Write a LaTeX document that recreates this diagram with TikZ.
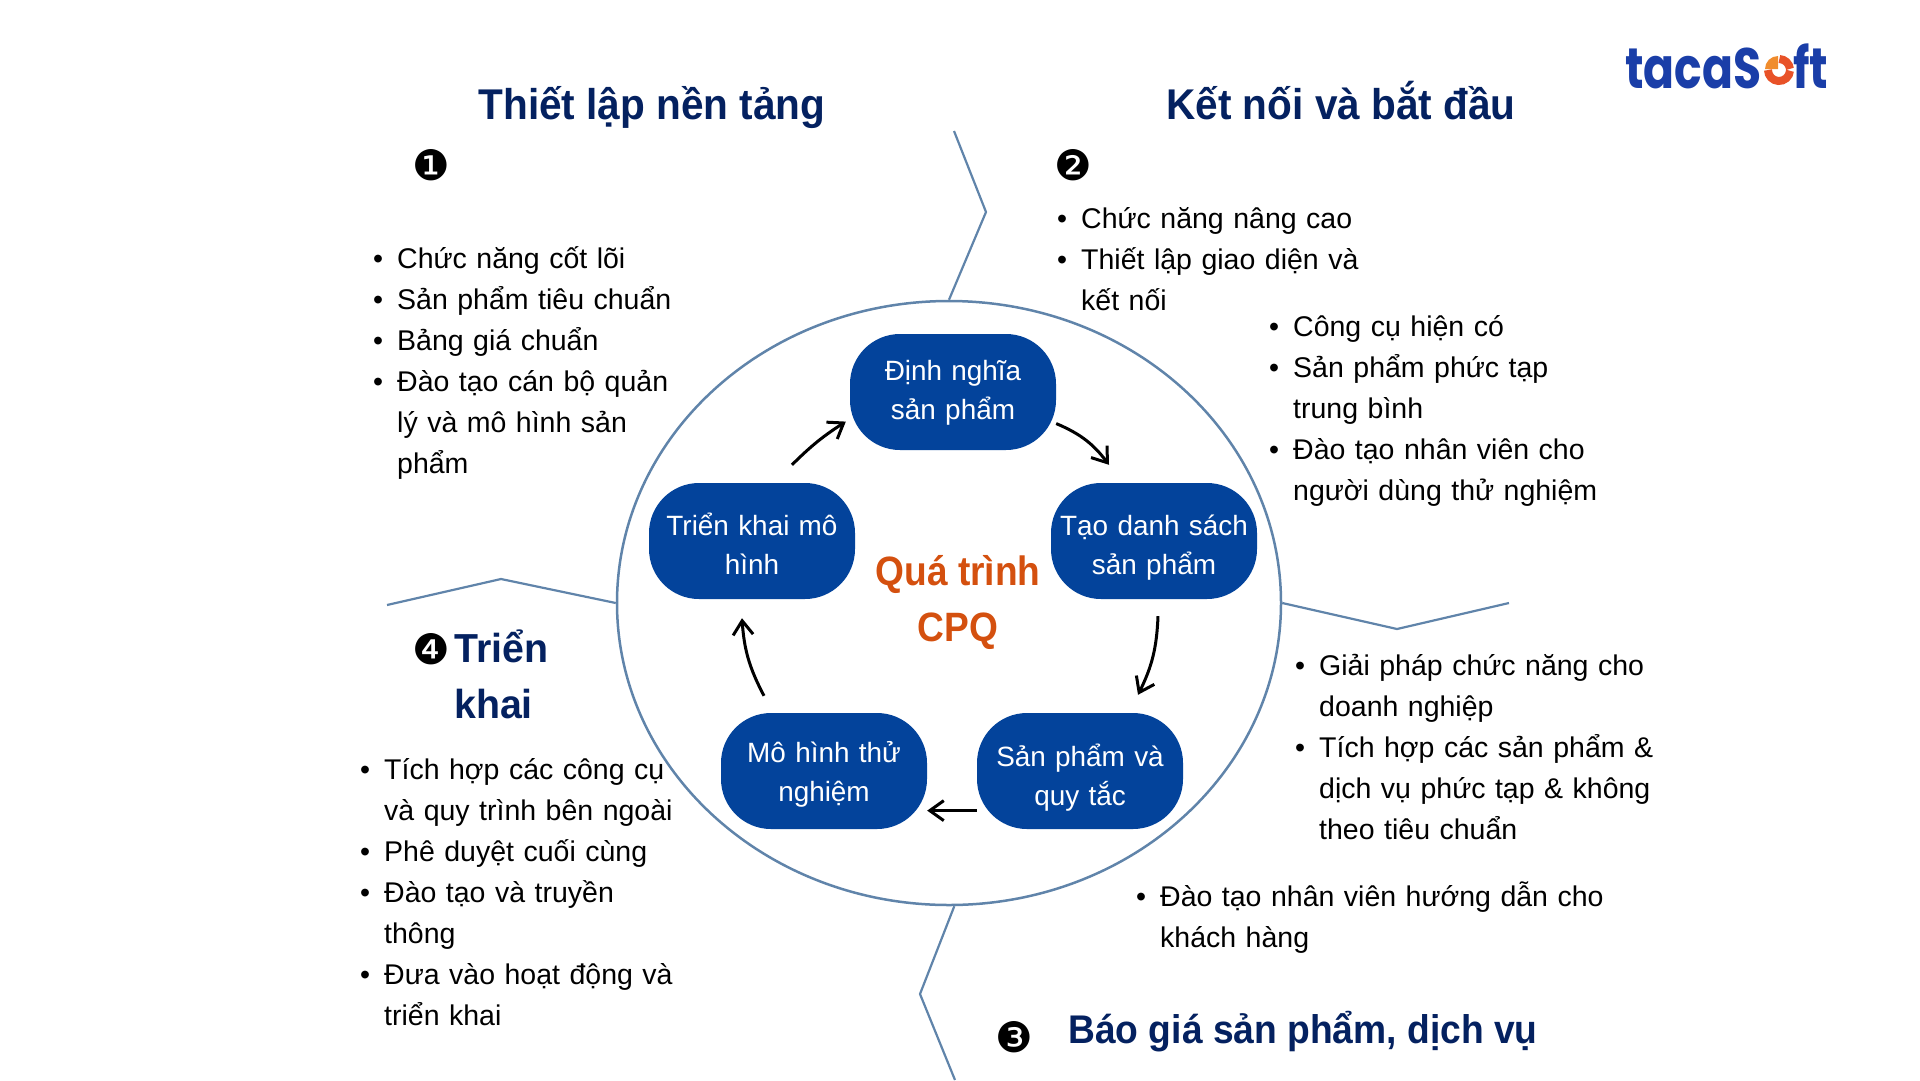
\documentclass[tikz,border=0pt]{standalone}
\usepackage{fontspec}
\usepackage{graphicx}
\setmainfont{Liberation Sans}
\newfontfamily\numfont{DejaVu Sans}
\newfontfamily\logofont{Poppins}
\usetikzlibrary{arrows.meta,shapes.geometric}
\definecolor{navy}{RGB}{4, 33, 96}
\definecolor{boxblue}{RGB}{3, 67, 155}
\definecolor{ringblue}{RGB}{96, 132, 170}
\definecolor{cpqorange}{RGB}{212, 80, 15}
\definecolor{logoblue}{RGB}{26, 62, 168}
\definecolor{logored}{RGB}{232, 82, 40}
\definecolor{logoorange}{RGB}{240, 140, 45}
\newenvironment{cpqlist}{%
    \begin{list}{\textbullet}{%
        \setlength{\leftmargin}{20pt}%
        \setlength{\labelwidth}{14pt}%
        \setlength{\labelsep}{14pt}%
        \setlength{\itemsep}{0pt}%
        \setlength{\parsep}{0pt}%
        \setlength{\topsep}{0pt}%
        \setlength{\partopsep}{0pt}%
    }%
}{\end{list}}
\tikzset{
    stepbox/.style={
        rectangle,
        rounded corners=50pt,
        fill=boxblue,
        text=white,
        minimum width=206pt,
        minimum height=116pt,
        inner sep=0pt,
        text width=204pt,
        align=center,
        font=\fontsize{27.9}{39}\selectfont,
        execute at begin node={\rule{0pt}{#1}},
        execute at end node={\strut}
    },
    stepbox/.default=27.3pt,
    heading/.style={
        text=navy,
        inner sep=0pt,
        anchor=base,
        font=\fontsize{43}{56}\selectfont\bfseries
    },
    bullets/.style={
        anchor=north west,
        inner sep=0pt,
        text width=560pt,
        font=\fontsize{28.5}{41}\selectfont
    },
    numeral/.style={
        inner sep=0pt,
        font=\fontsize{42}{42}\numfont
    },
    flowarrow/.style={
        -{Straight Barb[length=14pt,width=20pt]},
        line width=3pt,
        black
    },
    zigzag/.style={
        line width=2.2pt,
        ringblue
    }
}

\begin{document}
\begin{tikzpicture}[x=1pt, y=-1pt]
    \useasboundingbox (0,0) rectangle (1920,1080);

    \node (ring) [
        ellipse,
        draw=ringblue,
        line width=2.5pt,
        inner sep=0pt,
        minimum width=664pt,
        minimum height=604pt
    ] at (949,603) {};

    \coordinate (topstart) at (954,131);
    \coordinate (topbend) at (986,212);
    \coordinate (rightbend) at (1397,629);
    \coordinate (rightend) at (1509,603);
    \coordinate (leftbend) at (501,579);
    \coordinate (leftend) at (387,605);
    \coordinate (bottombend) at (920,994);
    \coordinate (bottomend) at (955,1080);

    \draw[zigzag] (topstart) -- (topbend) -- (ring.north);
    \draw[zigzag] (ring.east) -- (rightbend) -- (rightend);
    \draw[zigzag] (ring.west) -- (leftbend) -- (leftend);
    \draw[zigzag] (ring.-89) -- (bottombend) -- (bottomend);

    \node (define) [stepbox] at (953,392) {Định nghĩa\\sản phẩm};
    \node (listing) [stepbox=39.5pt] at (1154,541) {Tạo danh sách\\sản phẩm};
    \node (products) [stepbox=41pt] at (1080,771) {Sản phẩm và\\quy tắc};
    \node (pilot) [stepbox=33pt] at (824,771) {Mô hình thử\\nghiệm};
    \node (rollout) [stepbox=39.5pt] at (752,541) {Triển khai mô\\hình};

    \node (cpq) [
        align=center,
        inner sep=0pt,
        text=cpqorange,
        font=\fontsize{41}{56}\selectfont\bfseries
    ] at (958,602) {\scalebox{0.905}[1]{Quá trình}\\\scalebox{0.905}[1]{CPQ}};

    \draw[flowarrow, bend left=15] (define.-17) to ([xshift=-45pt,yshift=18pt]listing.north);
    \draw[flowarrow, bend left=12] ([xshift=4pt,yshift=-17pt]listing.south) to ([xshift=58pt,yshift=18pt]products.north);
    \draw[flowarrow] (products.201) to (pilot.-21);
    \draw[flowarrow, bend left=12] ([xshift=-60pt,yshift=17pt]pilot.north) to ([xshift=-10pt,yshift=-19pt]rollout.south);
    \draw[flowarrow, bend left=6] ([xshift=40pt,yshift=18pt]rollout.north) to ([xshift=-4pt]define.196);

    \node (titleone) [heading] at (652,119) {\scalebox{0.943}[1]{Thiết lập nền tảng}};
    \node (titletwo) [heading] at (1341,119) {\scalebox{0.943}[1]{Kết nối và bắt đầu}};
    \node (titlethree) [heading, font=\fontsize{40}{56}\selectfont\bfseries] at (1303,1043) {\scalebox{0.93}[1]{Báo giá sản phẩm, dịch vụ}};
    \node (titlefour) [heading, anchor=north west, align=left, font=\fontsize{40.5}{56}\selectfont\bfseries] at (454,630) {\scalebox{0.97}[1]{Triển}\\\scalebox{0.97}[1]{khai}};

    \node (numone) [numeral] at (431,165) {❶};
    \node (numtwo) [numeral] at (1073,165) {❷};
    \node (numthree) [numeral] at (1014,1037) {❸};
    \node (numfour) [numeral] at (431,649) {❹};

    \node (listone) [bullets] at (377,227) {
        \begin{cpqlist}
            \item\strut Chức năng cốt lõi
            \item\strut Sản phẩm tiêu chuẩn
            \item\strut Bảng giá chuẩn
            \item\strut Đào tạo cán bộ quản\\lý và mô hình sản\\phẩm
        \end{cpqlist}
    };
    \node (listtwo) [bullets] at (1061,187) {
        \begin{cpqlist}
            \item\strut Chức năng nâng cao
            \item\strut Thiết lập giao diện và\\kết nối
        \end{cpqlist}
    };
    \node (listtwob) [bullets] at (1273,295) {
        \begin{cpqlist}
            \item\strut Công cụ hiện có
            \item\strut Sản phẩm phức tạp\\trung bình
            \item\strut Đào tạo nhân viên cho\\người dùng thử nghiệm
        \end{cpqlist}
    };
    \node (listthree) [bullets] at (1299,634) {
        \begin{cpqlist}
            \item\strut Giải pháp chức năng cho\\doanh nghiệp
            \item\strut Tích hợp các sản phẩm \&\\dịch vụ phức tạp \& không\\theo tiêu chuẩn
        \end{cpqlist}
    };
    \node (listthreeb) [bullets] at (1140,865) {
        \begin{cpqlist}
            \item\strut Đào tạo nhân viên hướng dẫn cho\\khách hàng
        \end{cpqlist}
    };
    \node (listfour) [bullets] at (364,738) {
        \begin{cpqlist}
            \item\strut Tích hợp các công cụ\\và quy trình bên ngoài
            \item\strut Phê duyệt cuối cùng
            \item\strut Đào tạo và truyền\\thông
            \item\strut Đưa vào hoạt động và\\triển khai
        \end{cpqlist}
    };

    \node (logoleft) [
        anchor=base west,
        inner sep=0pt,
        text=logoblue,
        font=\fontsize{57}{57}\logofont\bfseries
    ] at (1625,88) {\scalebox{0.8}[1]{tacaS}};
    \node (logoright) [
        anchor=base west,
        inner sep=0pt,
        text=logoblue,
        font=\fontsize{57}{57}\logofont\bfseries
    ] at (1793,88) {\scalebox{0.8}[1]{ft}};
    \coordinate (logodot) at (1779,70);
    \fill[logoorange] ([xshift=-1pt,yshift=1pt]logodot) -- ++(180:13pt) arc[start angle=180, end angle=90, radius=13pt] -- cycle;
    \draw[logored, line width=8pt] ([shift={(88:11pt)}]logodot) arc[start angle=88, end angle=6, radius=11pt];
    \draw[logored, line width=8pt] ([shift={(-4:11pt)}]logodot) arc[start angle=-4, end angle=-180, radius=11pt];
\end{tikzpicture}
\end{document}
